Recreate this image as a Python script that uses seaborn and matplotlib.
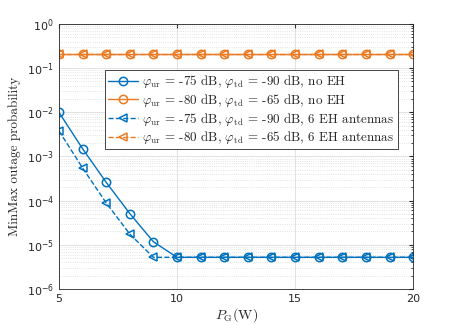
import numpy as np
import pandas as pd
import matplotlib
matplotlib.use("Agg")
import matplotlib.pyplot as plt
import seaborn as sns
from matplotlib.ticker import LogLocator, NullFormatter

sns.set_style("white")
plt.rcParams["mathtext.fontset"] = "cm"
plt.rcParams["font.family"] = ["DejaVu Sans"]

# data
p_g = list(range(5, 21))
blue_no_eh = [1.0e-2, 1.5e-3, 2.6e-4, 5.1e-5, 1.17e-5] + [5.2e-6] * 11
orange_no_eh = [0.215] * 16
blue_eh = [3.8e-3, 5.5e-4, 8.9e-5, 1.75e-5, 5.2e-6] + [5.2e-6] * 11
orange_eh = [0.215] * 16

labels = [
    r"$\varphi_{\rm ur}$ = -75 dB, $\varphi_{\rm td}$ = -90 dB, no EH",
    r"$\varphi_{\rm ur}$ = -80 dB, $\varphi_{\rm td}$ = -65 dB, no EH",
    r"$\varphi_{\rm ur}$ = -75 dB, $\varphi_{\rm td}$ = -90 dB, 6 EH antennas",
    r"$\varphi_{\rm ur}$ = -80 dB, $\varphi_{\rm td}$ = -65 dB, 6 EH antennas",
]

blue = "#0072BD"
orange = "#EC7A22"

fig = plt.figure(figsize=(4.57, 3.25), dpi=100)
ax = fig.add_axes([0.129, 0.111, 0.775, 0.815])

series = [
    (blue_no_eh, blue, "-", "o"),
    (orange_no_eh, orange, "-", "o"),
    (blue_eh, blue, "--", "<"),
    (orange_eh, orange, "--", "<"),
]
for (vals, col, ls, mk), lab in zip(series, labels):
    sns.lineplot(x=p_g, y=vals, ax=ax, color=col, linestyle=ls, marker=mk,
                 markersize=6, markerfacecolor="none", markeredgecolor=col,
                 markeredgewidth=1.1, linewidth=1.0, label=lab)

ax.set_yscale("log")
ax.set_xlim(5, 20)
ax.set_ylim(1e-6, 1)
ax.set_xticks([5, 10, 15, 20])
ax.yaxis.set_major_locator(LogLocator(base=10, numticks=10))
ax.yaxis.set_minor_locator(LogLocator(base=10, subs=np.arange(2, 10), numticks=100))
ax.yaxis.set_minor_formatter(NullFormatter())

ax.grid(True, which="major", color="#dcdcdc", linewidth=0.6)
ax.grid(True, which="minor", axis="y", color="#dcdcdc", linestyle=":", linewidth=0.6)
ax.set_axisbelow(True)

for s in ax.spines.values():
    s.set_color("#262626")
    s.set_linewidth(0.6)
    s.set_visible(True)
ax.tick_params(which="both", direction="in", top=True, right=True,
               colors="#262626", labelsize=8, length=3)
ax.tick_params(which="minor", length=1.5)
ax.tick_params(axis="x", which="minor", bottom=False, top=False)

ax.set_xlabel(r"$P_{\rm G}$(W)", fontsize=10, family="cmr10", labelpad=2)
ax.set_ylabel("MinMax outage probability", fontsize=9.5, family="cmr10", labelpad=4)

leg = ax.legend(loc="upper left", bbox_to_anchor=(0.13, 0.826),
                prop={"family": "cmr10", "size": 9.4}, frameon=True, fancybox=False,
                edgecolor="#262626", framealpha=1, handlelength=2.3,
                borderpad=0.25, labelspacing=0.12, handletextpad=0.3,
                borderaxespad=0.0)
leg.get_frame().set_linewidth(0.6)

fig.savefig("out.png", dpi=100)
